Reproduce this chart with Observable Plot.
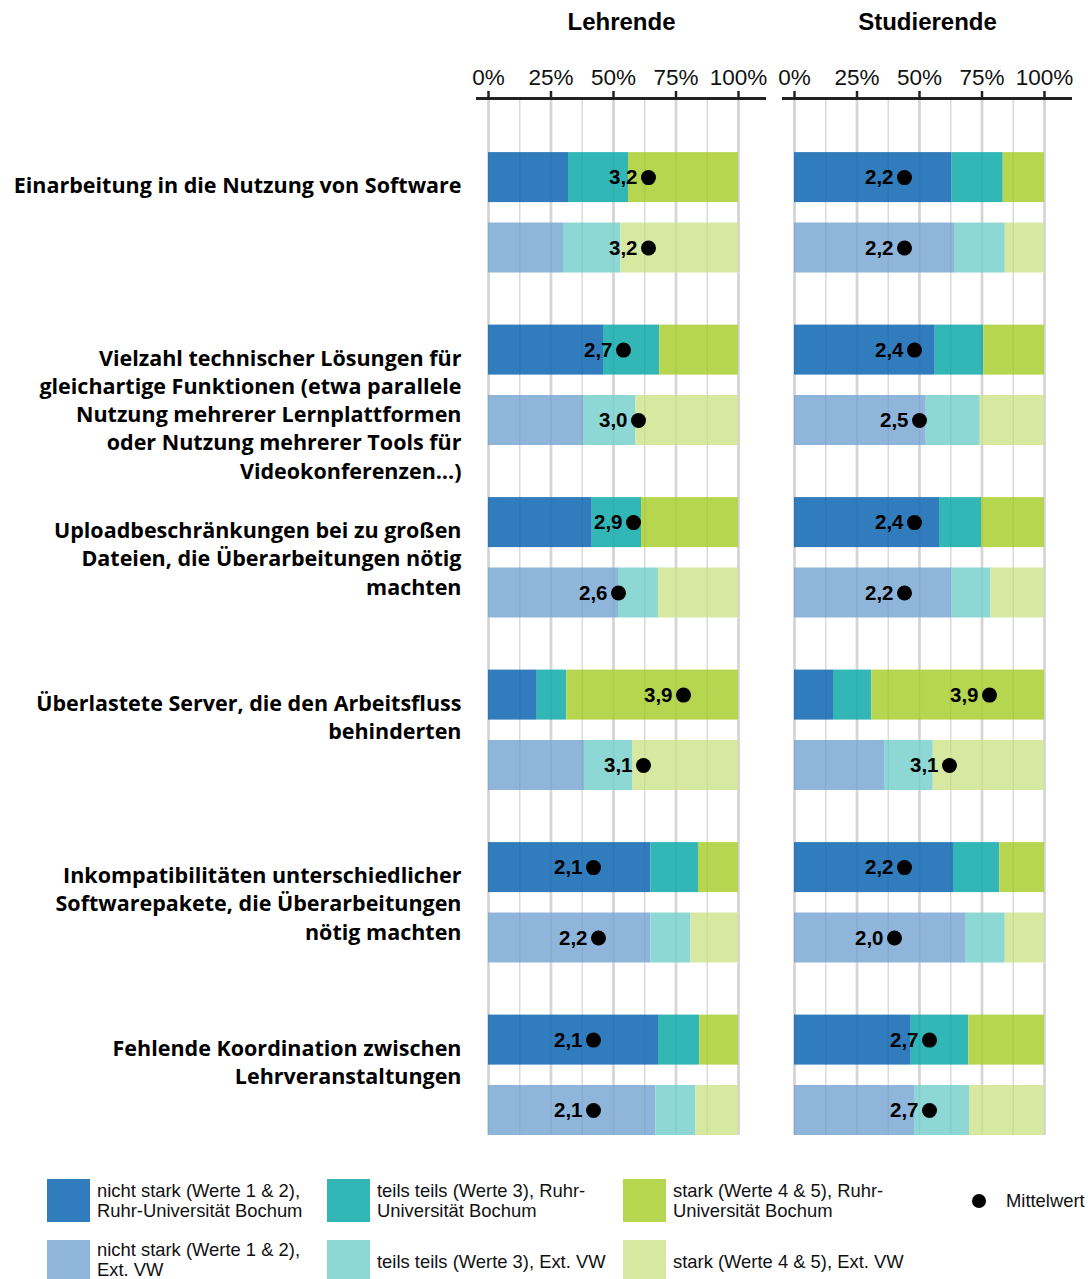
<!DOCTYPE html>
<html>
<head>
<meta charset="utf-8">
<script src="https://cdn.jsdelivr.net/npm/d3@7"></script>
<script src="https://cdn.jsdelivr.net/npm/@observablehq/plot@0.6"></script>
<style>
  html, body { margin: 0; padding: 0; background: #fff; }
  body { font-family: "Liberation Sans", Arial, sans-serif; }
  #wrap { position: relative; width: 1088px; height: 1279px; overflow: hidden; }
  #wrap svg { display: block; }
  #legend { position: absolute; left: 0; top: 0; width: 1088px; }
  .sw { position: absolute; width: 43px; height: 43px; }
  .lt { position: absolute; font-size: 18.4px; line-height: 20px; color: #111; white-space: pre; transform: translateY(-50%); }
  .md { position: absolute; width: 14px; height: 14px; border-radius: 50%; background: #000; }
</style>
</head>
<body>
<div id="wrap"><div id="header"></div><div id="chart"></div><div id="legend"></div></div>
<script>
// ---------- data ----------
const groups = ["Lehrende", "Studierende"];
const sources = ["Ruhr-Universität Bochum", "Ext. VW"];
const levels = ["nicht stark (Werte 1 & 2)", "teils teils (Werte 3)", "stark (Werte 4 & 5)"];
const categories = [
  "Einarbeitung in die Nutzung von Software",
  "Vielzahl technischer Lösungen für\ngleichartige Funktionen (etwa parallele\nNutzung mehrerer Lernplattformen\noder Nutzung mehrerer Tools für\nVideokonferenzen…)",
  "Uploadbeschränkungen bei zu großen\nDateien, die Überarbeitungen nötig\nmachten",
  "Überlastete Server, die den Arbeitsfluss\nbehinderten",
  "Inkompatibilitäten unterschiedlicher\nSoftwarepakete, die Überarbeitungen\nnötig machten",
  "Fehlende Koordination zwischen\nLehrveranstaltungen"
];
const xTicks = [0, 25, 50, 75, 100];
const xMinorGrid = [12.5, 37.5, 62.5, 87.5];
// shares in % : [nicht stark, teils teils, stark] per category
const lehrendeRUB = [[32, 24, 44], [46, 22.5, 31.5], [41.5, 19.7, 38.8], [19.5, 11.8, 68.7], [65, 19, 16], [68, 16.5, 15.5]];
const lehrendeExt = [[30, 23, 47], [38, 21, 41], [52, 16, 32], [38.4, 19.2, 42.4], [65, 16, 19], [67, 16, 17]];
const studierendeRUB = [[63, 20.5, 16.5], [56.3, 19.4, 24.3], [58, 16.8, 25.2], [15.6, 15.3, 69.1], [63.6, 18.5, 17.9], [46.7, 23, 30.3]];
const studierendeExt = [[64, 20.3, 15.7], [52.7, 21.6, 25.7], [63, 15.6, 21.4], [36, 19.5, 44.5], [68.7, 15.6, 15.7], [48, 22, 30]];
// Mittelwerte (scale 1–5)
const meanLehrendeRUB = [3.2, 2.7, 2.9, 3.9, 2.1, 2.1];
const meanLehrendeExt = [3.2, 3.0, 2.6, 3.1, 2.2, 2.1];
const meanStudierendeRUB = [2.2, 2.4, 2.4, 3.9, 2.2, 2.7];
const meanStudierendeExt = [2.2, 2.5, 2.2, 3.1, 2.0, 2.7];
// colours: RUB row, Ext row
const colorsRUB = ["#307cbd", "#33b6b6", "#b7d650"];
const colorsExt = ["#8fb5da", "#8dd8d5", "#d7e8a0"];
const legendLabels = [
  ["nicht stark (Werte 1 & 2),\nRuhr-Universität Bochum", "teils teils (Werte 3), Ruhr-\nUniversität Bochum", "stark (Werte 4 & 5), Ruhr-\nUniversität Bochum"],
  ["nicht stark (Werte 1 & 2),\nExt. VW", "teils teils (Werte 3), Ext. VW", "stark (Werte 4 & 5), Ext. VW"]
];
const meanLabel = "Mittelwert";

// ---------- tables ----------
const shares = {Lehrende: [lehrendeRUB, lehrendeExt], Studierende: [studierendeRUB, studierendeExt]};
const means = {Lehrende: [meanLehrendeRUB, meanLehrendeExt], Studierende: [meanStudierendeRUB, meanStudierendeExt]};
const keys = [], colorRange = [];
sources.forEach((s, si) => levels.forEach((l, li) => {
  keys.push(l + ", " + s);
  colorRange.push(si === 0 ? colorsRUB[li] : colorsExt[li]);
}));
const bars = [], dots = [];
groups.forEach(g => categories.forEach((c, ci) => sources.forEach((s, si) => {
  levels.forEach((l, li) => bars.push({group: g, cat: c, src: s, key: l + ", " + s, pct: shares[g][si][ci][li]}));
  dots.push({group: g, cat: c, src: s, mean: means[g][si][ci]});
})));
const catLabels = categories.map(c => ({group: groups[0], cat: c}));

// ---------- shared horizontal layout ----------
const W = 1088;
const fxOpts = {domain: groups, padding: 0.0523, round: false, axis: null};
const xOpts = {domain: [0, 100], insetLeft: 12, insetRight: 28, axis: null};
const font = "'Liberation Sans', Arial, sans-serif";

// ---------- header: titles + top axis ----------
const header = Plot.plot({
  width: W, height: 100,
  marginTop: 91, marginBottom: 0, marginLeft: 476, marginRight: 16,
  style: {fontFamily: font, background: "#fff", color: "#111", overflow: "visible"},
  fx: fxOpts,
  x: xOpts,
  y: {domain: [0, 1], insetBottom: 2, axis: null},
  marks: [
    Plot.tickX(xTicks, {x: d => d, stroke: "#222", strokeWidth: 2.5}),
    Plot.ruleY([0], {stroke: "#222", strokeWidth: 3}),
    Plot.text(xTicks, {x: d => d, text: d => d + "%", frameAnchor: "top", lineAnchor: "middle", dy: -14, fontSize: 22.5, fill: "#111"}),
    Plot.text(groups, {fx: d => d, text: d => d, frameAnchor: "top", lineAnchor: "middle", dy: -69, fontSize: 24, fontWeight: "bold", fill: "#000"})
  ]
});
document.getElementById("header").appendChild(header);

// ---------- main chart ----------
const chart = Plot.plot({
  width: W,
  height: 1050,
  marginTop: 0,
  marginLeft: 476,
  marginRight: 16,
  marginBottom: 15,
  style: {fontFamily: font, background: "transparent", color: "#111", overflow: "visible"},
  fx: fxOpts,
  fy: {domain: categories, padding: 0, round: false, axis: null},
  x: xOpts,
  y: {domain: sources, paddingInner: 0.29, paddingOuter: 0.37, align: 1, round: false, axis: null},
  color: {domain: keys, range: colorRange},
  marks: [
    Plot.gridX(xMinorGrid, {stroke: "#e6e6e6", strokeOpacity: 1, strokeWidth: 1.5}),
    Plot.gridX(xTicks, {stroke: "#dedede", strokeOpacity: 1, strokeWidth: 3}),
    Plot.barX(bars, Plot.stackX({x: "pct", y: "src", fx: "group", fy: "cat", fill: "key", order: null})),
    Plot.gridX([...xTicks, ...xMinorGrid], {stroke: "#000", strokeOpacity: 0.05, strokeWidth: 1.5}),
    Plot.dot(dots, {x: d => d.mean * 20, y: "src", fx: "group", fy: "cat", r: 7.5, fill: "#000"}),
    Plot.text(dots, {x: d => d.mean * 20, y: "src", fx: "group", fy: "cat", text: d => d.mean.toFixed(1).replace(".", ","),
      textAnchor: "end", dx: -11, fontSize: 20.5, fontWeight: "bold", fill: "#000"}),
    Plot.text(catLabels, {fx: "group", fy: "cat", text: "cat", frameAnchor: "top-left", textAnchor: "end", lineAnchor: "top",
      dx: -15, dy: 72.5, fontSize: 21.5, fontWeight: 700, fontFamily: "'Open Sans', sans-serif", lineHeight: 1.316, fill: "#000"})
  ]
});
document.getElementById("chart").appendChild(chart);

// ---------- legend ----------
const legend = document.getElementById("legend");
const colX = [47, 327, 623];
const rowY = [1179, 1240];
[colorsRUB, colorsExt].forEach((cols, ri) => cols.forEach((c, ci) => {
  const sw = document.createElement("div");
  sw.className = "sw";
  sw.style.left = colX[ci] + "px";
  sw.style.top = rowY[ri] + "px";
  sw.style.background = c;
  legend.appendChild(sw);
  const t = document.createElement("div");
  t.className = "lt";
  t.style.left = (colX[ci] + 50) + "px";
  t.style.top = (rowY[ri] + 21.5 - (ri === 1 && legendLabels[ri][ci].includes("\n") ? 2 : 0)) + "px";
  t.textContent = legendLabels[ri][ci];
  legend.appendChild(t);
}));
const md = document.createElement("div");
md.className = "md";
md.style.left = "972px";
md.style.top = "1194px";
legend.appendChild(md);
const mt = document.createElement("div");
mt.className = "lt";
mt.style.left = "1006px";
mt.style.top = "1201px";
mt.textContent = meanLabel;
legend.appendChild(mt);
</script>
</body>
</html>
